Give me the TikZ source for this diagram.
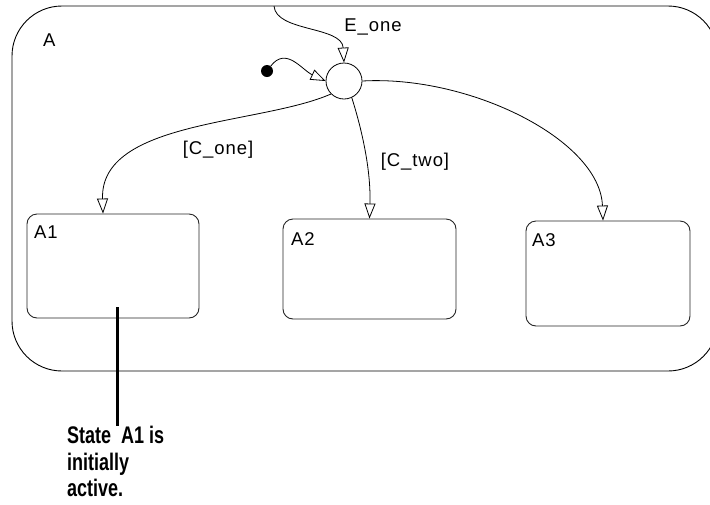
\documentclass[tikz,border=0pt]{standalone}
\usepackage{fontspec}
\setmainfont{Liberation Sans}
\newfontfamily\labelfont[LetterSpace=5]{Liberation Sans}
\newfontfamily\notefont[FakeStretch=0.75]{Liberation Sans Bold}
\usetikzlibrary{arrows.meta}

\begin{document}
\begin{tikzpicture}[x=1pt, y=-1pt,
  state/.style={draw=black!85, rounded corners=10pt, line width=0.9pt, inner sep=0pt},
  trans/.style={line width=0.8pt, -{Triangle[open, length=15pt, width=11pt]}},
  lbl/.style={font=\labelfont\fontsize{18.5}{20}\selectfont, inner sep=0pt},
  note/.style={font=\notefont\fontsize{24}{26.5}\selectfont, align=left, inner sep=0pt}]
  \clip (0,0) rectangle (710,504);

  % States
  \draw[line width=0.9pt, rounded corners=50pt] (12,6) rectangle (718,371);
  \node[lbl, anchor=west] (Aname) at (43,40) {A};
  \node[state, minimum width=172pt, minimum height=104pt] (A1) at (113,266) {};
  \node[state, minimum width=173pt, minimum height=100pt] (A2) at (369.5,269) {};
  \node[state, minimum width=164pt, minimum height=105pt] (A3) at (608,273.5) {};
  \node[lbl, anchor=west] (A1name) at (34,232) {A1};
  \node[lbl, anchor=west] (A2name) at (291,239) {A2};
  \node[lbl, anchor=west] (A3name) at (532,240) {A3};

  % Junction and default transition
  \node[circle, draw, line width=0.8pt, minimum size=36pt, inner sep=0pt] (J) at (344,81) {};
  \node[circle, fill, minimum size=12pt, inner sep=0pt] (dot) at (267,71) {};
  \coordinate (Etop) at (274,6);

  % Transitions
  \draw[trans] (Etop) .. controls (276,32) and (342,26) .. (J.north);
  \draw[trans] (dot) .. controls (286,46) and (302,70) .. (J.west);
  \draw[trans] (J.south west) .. controls (260,125) and (100,120) .. ([xshift=-10pt]A1.north);
  \draw[trans] (J.-65) .. controls (362,130) and (371,170) .. (A2.north);
  \draw[trans] (J.east) .. controls (470,75) and (600,140) .. ([xshift=-5pt]A3.north);
  \node[lbl] (Eone) at (373,27) {E\_one};
  \node[lbl] (Cone) at (218,150) {[C\_one]};
  \node[lbl] (Ctwo) at (415,162) {[C\_two]};

  % Annotation
  \coordinate (A1pin) at (117,307);
  \node[note, anchor=north west] (remark) at (67,426) {State\ \ A1 is\\initially\\active.};
  \draw[line width=3pt] (A1pin) -- (A1pin |- remark.north);
\end{tikzpicture}
\end{document}
